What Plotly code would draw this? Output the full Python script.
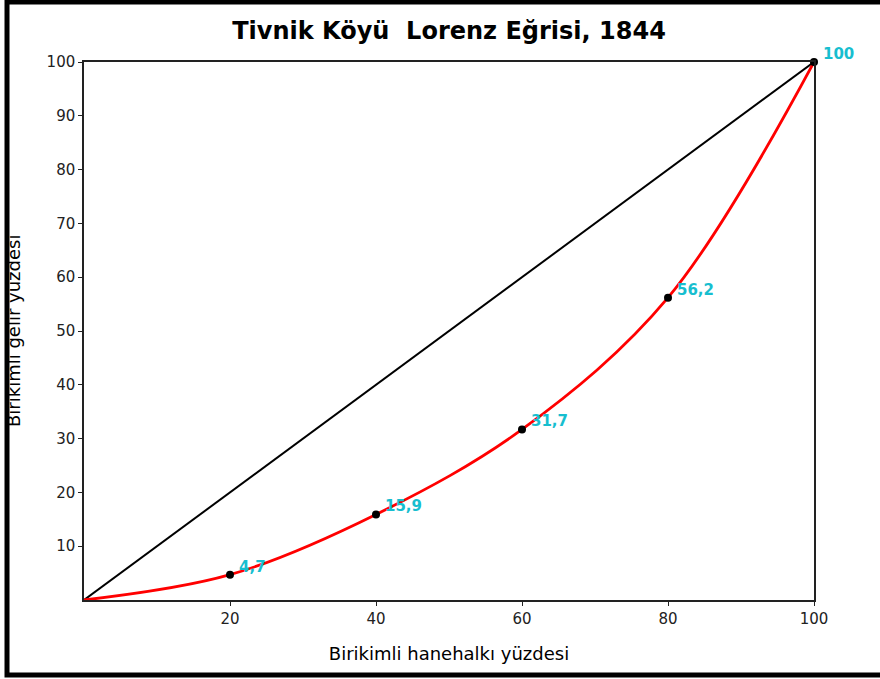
import plotly.graph_objects as go

pop_pct = [0, 20, 40, 60, 80, 100]
income_pct = [0, 4.7, 15.9, 31.7, 56.2, 100]
point_x = [20, 40, 60, 80, 100]
point_y = [4.7, 15.9, 31.7, 56.2, 100]
point_labels = ["4,7", "15,9", "31,7", "56,2", "100"]
equality_x = [0, 100]
equality_y = [0, 100]
x_ticks = [20, 40, 60, 80, 100]
y_ticks = [10, 20, 30, 40, 50, 60, 70, 80, 90, 100]

L, R, T, B = 84, 66, 62, 79
W, H = 880, 679
pw, ph = W - L - R, H - T - B

def px(xp):
    return (xp - L) / pw

def py(yp):
    return (H - B - yp) / ph

fig = go.Figure()
fig.add_trace(go.Scatter(x=equality_x, y=equality_y, mode="lines",
                         line=dict(color="black", width=2), showlegend=False,
                         hoverinfo="skip", cliponaxis=False))
fig.add_trace(go.Scatter(x=pop_pct, y=income_pct, mode="lines",
                         line=dict(color="#ff0000", width=2.8, shape="spline", smoothing=1.0),
                         showlegend=False, cliponaxis=False))
fig.add_trace(go.Scatter(x=point_x, y=point_y, mode="markers",
                         marker=dict(color="black", size=8), showlegend=False,
                         cliponaxis=False))

for xv, yv, lab in zip(point_x, point_y, point_labels):
    fig.add_annotation(x=xv, y=yv, text="<b>" + lab + "</b>", showarrow=False,
                       xanchor="left", yanchor="middle", xshift=7, yshift=8,
                       font=dict(family="DejaVu Sans", size=15, color="#17becf"))

fig.add_annotation(xref="paper", yref="paper", x=px(13), y=0.5,
                   text="Birikimli gelir yüzdesi", textangle=-90, showarrow=False,
                   xanchor="center", yanchor="middle",
                   font=dict(family="DejaVu Sans", size=18, color="black"))

fig.add_shape(type="rect", xref="paper", yref="paper",
              x0=px(7), x1=px(900), y0=py(675), y1=py(2),
              line=dict(color="black", width=5), fillcolor="rgba(0,0,0,0)", layer="above")

fig.update_layout(
    width=W, height=H,
    margin=dict(l=L, r=R, t=T, b=B),
    paper_bgcolor="white", plot_bgcolor="white",
    title=dict(text="<b>Tivnik Köyü \u00a0Lorenz Eğrisi, 1844</b>", x=449 / W, xanchor="center",
               y=1 - 31 / H, yanchor="middle",
               font=dict(family="DejaVu Sans", size=24, color="black")),
    font=dict(family="DejaVu Sans", size=15, color="#222222"),
)
fig.update_xaxes(range=[0, 100], tickvals=x_ticks, ticks="outside", ticklen=4,
                 tickcolor="#222222", showline=True, linecolor="#222222", linewidth=1.5,
                 mirror=True, showgrid=False, zeroline=False,
                 title=dict(text="Birikimli hanehalkı yüzdesi", standoff=21,
                            font=dict(family="DejaVu Sans", size=18, color="black")))
fig.update_yaxes(range=[0, 100], tickvals=y_ticks, ticks="outside", ticklen=4,
                 tickcolor="#222222", showline=True, linecolor="#222222", linewidth=1.5,
                 mirror=True, showgrid=False, zeroline=False)

fig.write_html("out.html", config={"displayModeBar": False},
               post_script="document.body.style.margin='0';document.body.style.overflow='hidden';")
